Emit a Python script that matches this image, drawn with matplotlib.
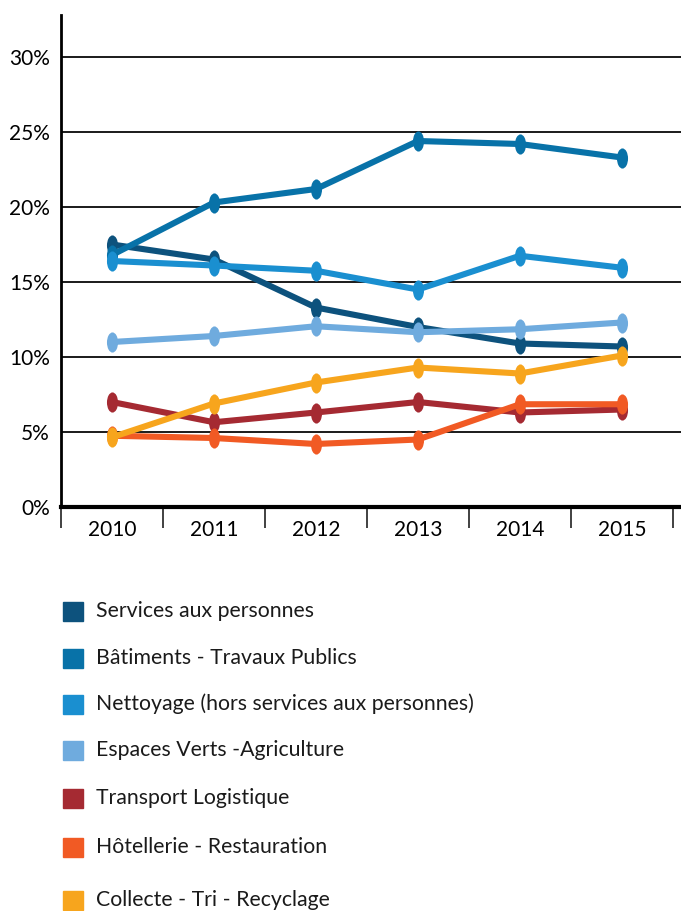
import matplotlib
matplotlib.use("Agg")
import matplotlib.pyplot as plt
import matplotlib.path as mpath
import matplotlib.transforms as mtransforms
from matplotlib.patches import Rectangle

plt.rcParams['font.family'] = ['Lato', 'DejaVu Sans']

years = ["2010", "2011", "2012", "2013", "2014", "2015"]
yticks = [0, 5, 10, 15, 20, 25, 30]

series_names = [
    "Services aux personnes",
    "Bâtiments - Travaux Publics",
    "Nettoyage (hors services aux personnes)",
    "Espaces Verts -Agriculture",
    "Transport Logistique",
    "Hôtellerie - Restauration",
    "Collecte - Tri - Recyclage",
]
services = [17.5, 16.5, 13.3, 12.0, 10.9, 10.7]
batiments = [16.8, 20.3, 21.2, 24.4, 24.2, 23.3]
nettoyage = [16.4, 16.1, 15.75, 14.5, 16.75, 15.95]
espaces = [11.0, 11.4, 12.05, 11.65, 11.85, 12.3]
transport = [7.0, 5.65, 6.3, 7.0, 6.3, 6.5]
hotellerie = [4.75, 4.6, 4.2, 4.5, 6.85, 6.85]
collecte = [4.65, 6.9, 8.3, 9.3, 8.9, 10.1]
series_values = [services, batiments, nettoyage, espaces, transport, hotellerie, collecte]
colors = ["#0d527d", "#0872a8", "#1a8fd0", "#6fabde", "#a52a32", "#f15a24", "#f7a51d"]

# vertical ellipse marker
ellipse = mpath.Path.unit_circle().transformed(mtransforms.Affine2D().scale(0.55, 1.0))

dpi = 100
fig = plt.figure(figsize=(6.81, 9.11), dpi=dpi)
ax = fig.add_axes([61 / 681, 404 / 911, 620 / 681, 492 / 911])

x = list(range(len(years)))
for vals, col in zip(series_values, colors):
    ax.plot(x, vals, color=col, lw=4.4, marker=ellipse, markersize=14.5,
            markeredgewidth=0, solid_capstyle='round', zorder=3)

ax.set_xlim(-0.5, 5.58)
ax.set_ylim(0, 32.8)

ax.set_yticks(yticks)
ax.set_yticklabels([f"{v}%" for v in yticks], fontsize=15)
ax.tick_params(axis='y', length=0, pad=8)
for v in yticks[1:]:
    ax.axhline(v, color='#1a1a1a', lw=1.4, zorder=1)

ax.set_xticks([i - 0.5 for i in range(len(years) + 1)])
ax.set_xticklabels([])
ax.set_xticks(x, minor=True)
ax.set_xticklabels(years, minor=True, fontsize=15)
ax.tick_params(axis='x', which='major', length=15, width=1.3, direction='out', color='#333333')
ax.tick_params(axis='x', which='minor', length=0, pad=9)

for s in ['top', 'right']:
    ax.spines[s].set_visible(False)
ax.spines['left'].set_linewidth(2)
ax.spines['bottom'].set_linewidth(3)

# legend
rows_y = [611, 658, 704, 750, 798, 847, 900]
H = 911
for name, col, yc in zip(series_names, colors, rows_y):
    fig.patches.append(Rectangle((63 / 681, (H - yc - 10) / H), 20 / 681, 19 / H,
                                 transform=fig.transFigure, color=col))
    fig.text(96 / 681, (H - yc) / H, name, fontsize=15.3, va='center', ha='left',
             color='#1a1a1a')

fig.savefig("out.png", dpi=dpi)
